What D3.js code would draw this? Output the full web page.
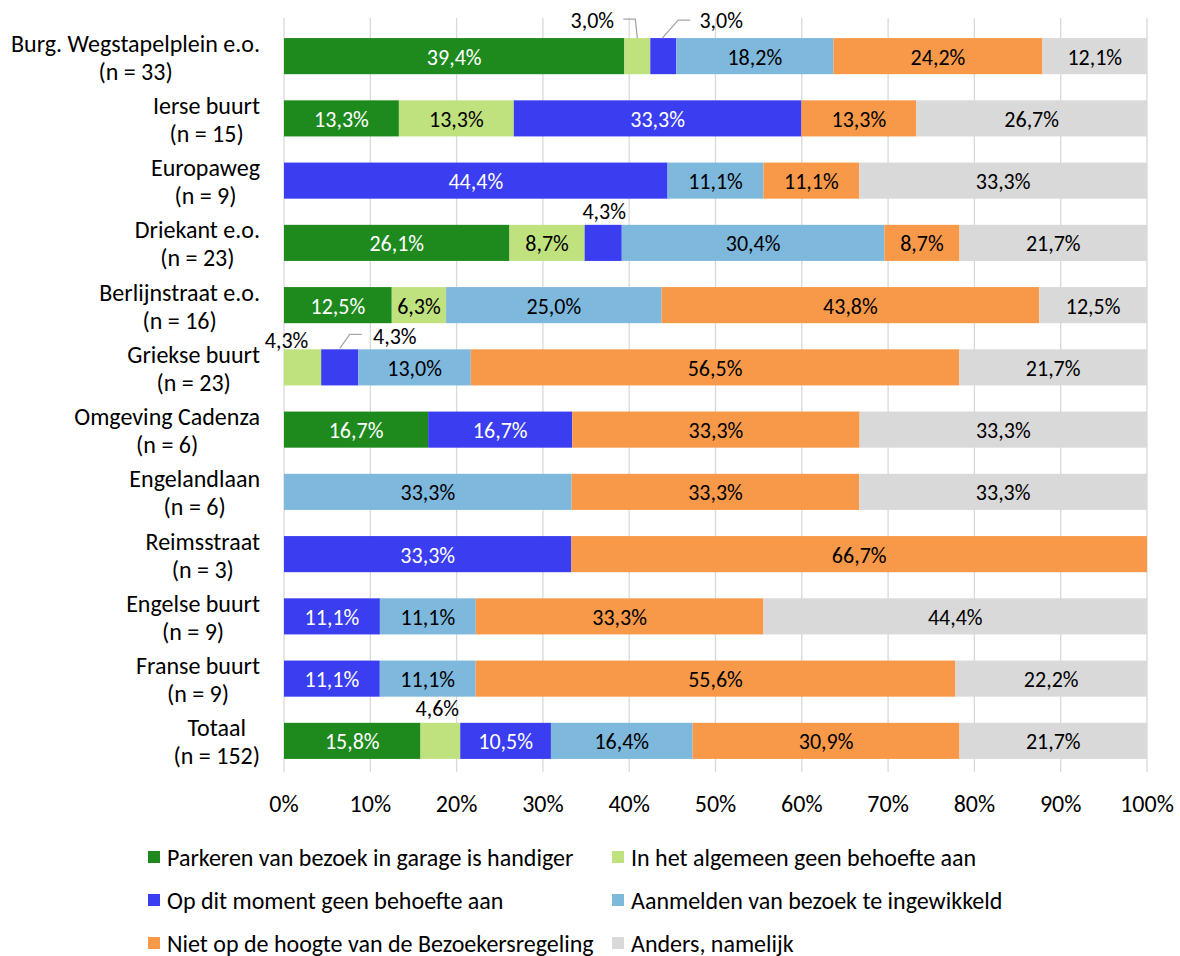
<!DOCTYPE html>
<html lang="nl">
<head>
<meta charset="UTF-8">
<title>Redenen</title>
<script src="https://d3js.org/d3.v7.min.js"></script>
<style>
  body { margin: 0; background: #fff; }
  svg text { font-family: Carlito, Calibri, "Open Sans", sans-serif; fill: #000; }
</style>
</head>
<body>
<div id="chart"></div>
<script>
// categorieen (twee regels per label)
var categories = [
  ["Burg. Wegstapelplein e.o.", "(n = 33)"],
  ["Ierse buurt", "(n = 15)"],
  ["Europaweg", "(n = 9)"],
  ["Driekant e.o.", "(n = 23)"],
  ["Berlijnstraat e.o.", "(n = 16)"],
  ["Griekse buurt", "(n = 23)"],
  ["Omgeving Cadenza", "(n = 6)"],
  ["Engelandlaan", "(n = 6)"],
  ["Reimsstraat", "(n = 3)"],
  ["Engelse buurt", "(n = 9)"],
  ["Franse buurt", "(n = 9)"],
  ["Totaal", "(n = 152)"]
];

var seriesNames = [
  "Parkeren van bezoek in garage is handiger",
  "In het algemeen geen behoefte aan",
  "Op dit moment geen behoefte aan",
  "Aanmelden van bezoek te ingewikkeld",
  "Niet op de hoogte van de Bezoekersregeling",
  "Anders, namelijk"
];

var garage     = [39.4, 13.3, 0,    26.1, 12.5, 0,    16.7, 0,    0,    0,    0,    15.8];
var algemeen   = [3.0,  13.3, 0,    8.7,  6.3,  4.3,  0,    0,    0,    0,    0,    4.6];
var moment     = [3.0,  33.3, 44.4, 4.3,  0,    4.3,  16.7, 0,    33.3, 11.1, 11.1, 10.5];
var aanmelden  = [18.2, 0,    11.1, 30.4, 25.0, 13.0, 0,    33.3, 0,    11.1, 11.1, 16.4];
var nietHoogte = [24.2, 13.3, 11.1, 8.7,  43.8, 56.5, 33.3, 33.3, 66.7, 33.3, 55.6, 30.9];
var anders     = [12.1, 26.7, 33.3, 21.7, 12.5, 21.7, 33.3, 33.3, 0,    44.4, 22.2, 21.7];

var xTicks = [0, 10, 20, 30, 40, 50, 60, 70, 80, 90, 100];

var colors = ["#1e8a1e", "#c0e27e", "#3a3df0", "#7fb8dd", "#f8994a", "#d9d9d9"];
var labelColors = ["#fff", "#000", "#fff", "#000", "#000", "#000"];

var allSeries = [garage, algemeen, moment, aanmelden, nietHoogte, anders];

var width = 1180, height = 956;
var margin = {top: 25, right: 33, bottom: 184, left: 284};

var svg = d3.select("#chart").append("svg")
  .attr("width", width)
  .attr("height", height);

var x = d3.scaleLinear().domain([0, 100]).range([margin.left, width - margin.right]);
var y = d3.scaleBand().domain(d3.range(categories.length))
  .range([margin.top, height - margin.bottom])
  .paddingInner(0.42).paddingOuter(0.21);

var fmt = function(v) { return v.toFixed(1).replace(".", ",") + "%"; };

// gridlines + ticks
svg.append("g").selectAll("line").data(xTicks).join("line")
  .attr("x1", d => x(d)).attr("x2", d => x(d))
  .attr("y1", 18).attr("y2", height - margin.bottom)
  .attr("stroke", "#d9d9d9").attr("stroke-width", 1.3);

svg.append("g").selectAll("text").data(xTicks).join("text")
  .attr("x", d => x(d)).attr("y", height - margin.bottom + 31)
  .attr("text-anchor", "middle").attr("dominant-baseline", "central")
  .style("font-size", "24px")
  .text(d => d + "%");

// stacked data, 100% gestapeld (rijen genormaliseerd)
var rows = categories.map(function(c, i) {
  var total = d3.sum(allSeries, s => s[i]);
  var start = 0;
  return allSeries.map(function(s, k) {
    var w = s[i] / total * 100;
    var seg = {row: i, k: k, v: s[i], x0: start, x1: start + w};
    start += w;
    return seg;
  });
});

var segs = rows.flat().filter(d => d.v > 0);

svg.append("g").selectAll("rect").data(segs).join("rect")
  .attr("x", d => x(d.x0))
  .attr("width", d => x(d.x1) - x(d.x0))
  .attr("y", d => y(d.row))
  .attr("height", y.bandwidth())
  .attr("fill", d => colors[d.k]);

// kleine segmenten krijgen een label buiten de balk
// key: row-series, value: label offset + leader line
var outside = {
  "0-1": {dx: -45, dy: -36, leader: [[-14, -37], [-2, -37], [0, -18]]},
  "0-2": {dx: 58, dy: -36, leader: [[27, -36], [15, -36], [-1, -18]]},
  "3-2": {dx: 1, dy: -31, leader: null},
  "5-1": {dx: -16, dy: -27, leader: null},
  "5-2": {dx: 55, dy: -31, leader: [[22, -33], [10, -33], [0, -19]]},
  "11-1": {dx: -3, dy: -32, leader: null}
};

var labG = svg.append("g");
segs.forEach(function(d) {
  var cx = (x(d.x0) + x(d.x1)) / 2;
  var cy = y(d.row) + y.bandwidth() / 2;
  var o = outside[d.row + "-" + d.k];
  if (o) {
    if (o.leader) {
      labG.append("path")
        .attr("d", d3.line()(o.leader.map(p => [cx + p[0], cy + p[1]])))
        .attr("fill", "none").attr("stroke", "#a6a6a6").attr("stroke-width", 1.3);
    }
    labG.append("text")
      .attr("x", cx + o.dx).attr("y", cy + o.dy)
      .attr("text-anchor", "middle").attr("dominant-baseline", "central")
      .style("font-size", "22px")
      .text(fmt(d.v));
  } else {
    labG.append("text")
      .attr("x", cx).attr("y", cy + 1)
      .attr("text-anchor", "middle").attr("dominant-baseline", "central")
      .style("font-size", "22px")
      .style("fill", labelColors[d.k])
      .text(fmt(d.v));
  }
});

// categorie labels: blok rechts uitgelijnd, regels onderling gecentreerd
var catG = svg.append("g");
categories.forEach(function(c, i) {
  var cy = y(i) + y.bandwidth() / 2;
  var g = catG.append("g");
  var t = c.map(function(line, j) {
    return g.append("text")
      .attr("y", cy + (j === 0 ? -13 : 15))
      .attr("text-anchor", "middle").attr("dominant-baseline", "central")
      .style("font-size", "24px")
      .text(line);
  });
  var w = d3.max(t, n => n.node().getComputedTextLength());
  t.forEach(n => n.attr("x", 260 - w / 2));
});

// legenda
var legX = [148, 612], legY = [857, 900, 943];
var leg = svg.append("g");
seriesNames.forEach(function(name, k) {
  var lx = legX[k % 2], ly = legY[Math.floor(k / 2)];
  leg.append("rect")
    .attr("x", lx).attr("y", ly - 6).attr("width", 12).attr("height", 12)
    .attr("fill", colors[k]);
  leg.append("text")
    .attr("x", lx + 19).attr("y", ly)
    .attr("dominant-baseline", "central")
    .style("font-size", "24px")
    .text(name);
});
</script>
</body>
</html>
